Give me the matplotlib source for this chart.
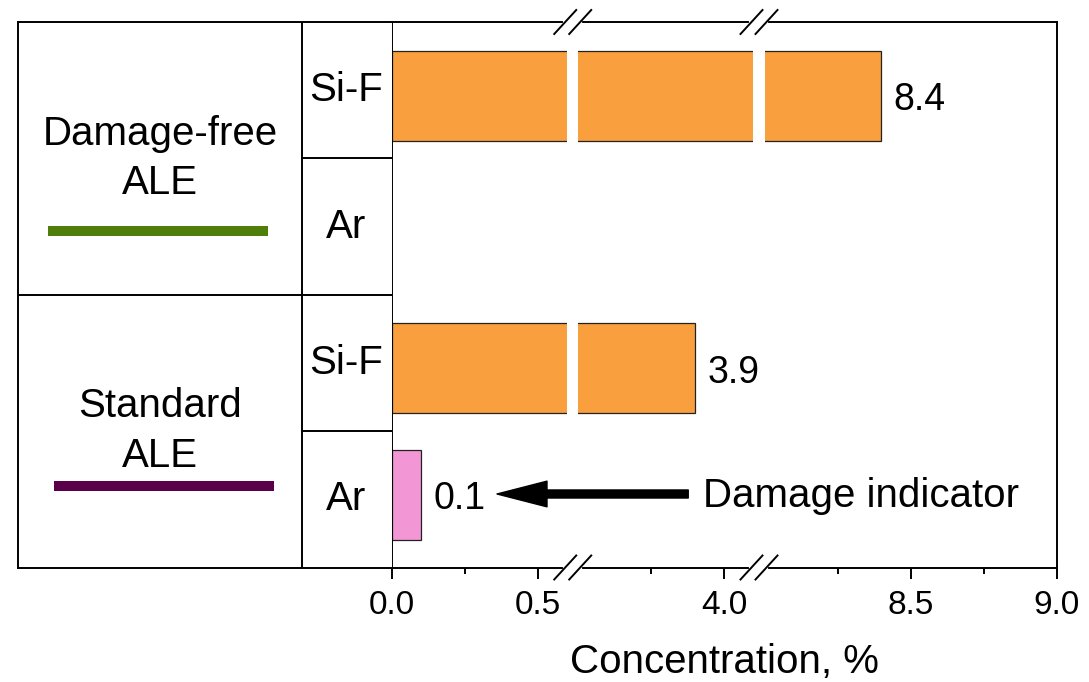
import numpy as np
import matplotlib
matplotlib.use('Agg')
import matplotlib.pyplot as plt
from matplotlib.patches import FancyArrowPatch
from matplotlib.lines import Line2D
from matplotlib import transforms as mtrans
from matplotlib.ticker import FixedLocator, FormatStrFormatter

plt.rcParams['font.family'] = ['Liberation Sans', 'DejaVu Sans']

# ---------------- data ----------------
groups = ['Damage-free\nALE', 'Standard\nALE']
species = ['Si-F', 'Ar', 'Si-F', 'Ar']
values = [8.4, 0.0, 3.9, 0.1]
value_labels = ['8.4', '', '3.9', '0.1']
major_ticks = [0.0, 0.5, 4.0, 8.5, 9.0]
minor_ticks = [0.25, 3.75, 8.25, 8.75]
segments = [(0.0, 0.6), (3.5, 4.1), (8.0, 9.0)]
annotation_text = 'Damage indicator'
xlabel = 'Concentration, %'

# ---------------- style / layout ----------------
bar_colors = ['#F99F3E', '#F99F3E', '#F99F3E', '#F396D6']
group_colors = ['#4F7F0A', '#5A004A']
bar_pos = [3.46, 2.5, 1.46, 0.535]
row_pos = [3.5, 2.5, 1.5, 0.5]
W, H = 1089, 682
LW = 1.4
FS = 29

# broken-axis scale
GAP = 0.038
xp, fp = [-1000.0], [-1000.0]
pos = 0.0
for i, (a, b) in enumerate(segments):
    if i > 0:
        pos += GAP
    xp += [a, b]
    fp += [pos, pos + (b - a)]
    pos += b - a
xp.append(1000.0)
fp.append(pos + (1000.0 - segments[-1][1]))
xp, fp = np.array(xp), np.array(fp)


def fwd(x):
    return np.interp(x, xp, fp)


def inv(y):
    return np.interp(y, fp, xp)


fig = plt.figure(figsize=(W / 100, H / 100), dpi=100)
ax_bottom = 1 - 567.5 / H
ax_height = (567.5 - 22) / H
ax = fig.add_axes([392 / W, ax_bottom, (1056.5 - 392) / W, ax_height])
ax.set_xscale('function', functions=(fwd, inv))
ax.set_xlim(0, 9)
ax.set_ylim(0, 4)

for i, v in enumerate(values):
    if v > 0:
        ax.barh(bar_pos[i], v, height=0.66, color=bar_colors[i],
                edgecolor='#222222', linewidth=0.9, zorder=2)
        ax.annotate(value_labels[i], xy=(v, bar_pos[i]), xytext=(9, -3),
                    textcoords='offset points', ha='left', va='center',
                    fontsize=27)

# white gaps
for (a0, b0), (a1, b1) in zip(segments[:-1], segments[1:]):
    ax.axvspan(b0, a1, color='white', lw=0, zorder=2.3)

ax.xaxis.set_major_locator(FixedLocator(major_ticks))
ax.xaxis.set_minor_locator(FixedLocator(minor_ticks))
ax.xaxis.set_major_formatter(FormatStrFormatter('%.1f'))
ax.tick_params(axis='x', which='major', length=8, width=LW, labelsize=24, pad=8)
ax.tick_params(axis='x', which='minor', length=4, width=LW)
ax.set_yticks([])
for sp in ax.spines.values():
    sp.set_linewidth(LW)
ax.set_xlabel(xlabel, fontsize=FS, labelpad=16)

# break marks
blend = mtrans.blended_transform_factory(ax.transData, ax.transAxes)
for (a0, b0), (a1, b1) in zip(segments[:-1], segments[1:]):
    xm = inv((fwd(b0) + fwd(a1)) / 2)
    for yy in (0.0, 1.0):
        tr = fig.dpi_scale_trans + mtrans.ScaledTranslation(xm, yy, blend)
        ax.add_line(Line2D([-0.075, 0.075], [0, 0], color='white', lw=3,
                           transform=tr, clip_on=False, zorder=5))
        for c in (-7.5, 7.5):
            ax.add_line(Line2D([(c - 11) / 100, (c + 11) / 100], [-0.12, 0.12],
                               color='black', lw=LW, transform=tr,
                               clip_on=False, zorder=6))

# annotation arrow
ablend = mtrans.blended_transform_factory(ax.transAxes, ax.transData)
arr = FancyArrowPatch(posA=(0.4458, 0.539), posB=(0.158, 0.539),
                      transform=ablend,
                      arrowstyle='simple,head_length=36,head_width=18.5,tail_width=5.8',
                      mutation_scale=1, color='black', shrinkA=0, shrinkB=0, zorder=4)
ax.add_patch(arr)
ax.text(0.468, 0.525, annotation_text, transform=ablend, ha='left', va='center',
        fontsize=FS)

# left table
ax_t = fig.add_axes([18 / W, ax_bottom, (392 - 18) / W, ax_height])
ax_t.set_xlim(18, 392)
ax_t.set_ylim(0, 4)
ax_t.set_xticks([])
ax_t.set_yticks([])
ax_t.spines['right'].set_visible(False)
for sp in ax_t.spines.values():
    sp.set_linewidth(LW)
ax_t.plot([18, 392], [2, 2], color='black', lw=LW)
ax_t.plot([302, 392], [3, 3], color='black', lw=LW)
ax_t.plot([302, 392], [1, 1], color='black', lw=LW)
ax_t.plot([302, 302], [0, 4], color='black', lw=LW)

for gi, (g, yc) in enumerate(zip(groups, [3.0, 1.0])):
    ax_t.text(160, yc, g, ha='center', va='center', fontsize=FS, linespacing=1.38,
              multialignment='center')
ax_t.plot([48, 268], [2.467, 2.467], color=group_colors[0], lw=7.2,
          solid_capstyle='butt')
ax_t.plot([54, 274], [0.598, 0.598], color=group_colors[1], lw=7.2,
          solid_capstyle='butt')
for s, yc in zip(species, row_pos):
    ax_t.text(346.5, yc, s, ha='center', va='center', fontsize=FS)

fig.savefig('out.png', dpi=100)
